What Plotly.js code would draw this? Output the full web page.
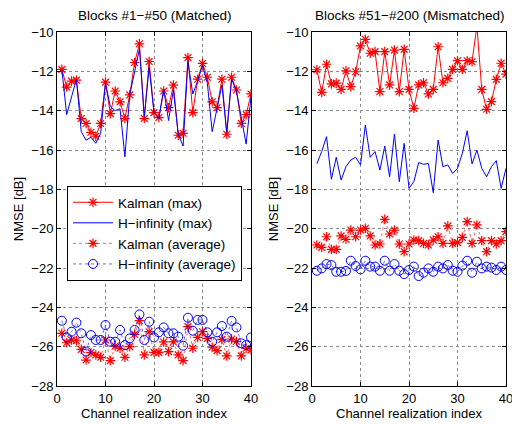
<!DOCTYPE html>
<html><head><meta charset="utf-8">
<script src="https://cdn.plot.ly/plotly-3.0.1.min.js"></script>
<style>html,body{margin:0;padding:0;background:#fff}#plot{width:512px;height:424px}</style>
</head><body><div id="plot"></div>
<script>
const idx = Array.from({length:40},(_,i)=>i+1);

// Left panel: Blocks #1-#50 (Matched)
const kalmanMaxL = [-11.9,-12.8,-12.5,-12.45,-14.4,-14.65,-15.1,-15.3,-14.65,-12.55,-14.15,-13.0,-13.55,-14.4,-13.2,-11.55,-10.6,-14.4,-11.5,-14.1,-14.35,-13.0,-13.85,-12.7,-15.25,-15.15,-11.3,-14.1,-12.4,-11.6,-12.3,-13.55,-13.85,-12.4,-15.2,-12.3,-12.95,-14.65,-14.2,-13.15];
const hinfMaxL = [-11.9,-14.2,-13.3,-12.4,-15.07,-15.5,-15.35,-15.66,-15.15,-12.6,-13.8,-14.0,-13.9,-16.35,-13.2,-12.0,-10.85,-14.3,-11.8,-14.1,-14.4,-12.9,-14.5,-12.95,-15.2,-15.8,-11.5,-13.15,-12.5,-11.7,-12.6,-15.07,-13.9,-12.7,-15.1,-12.4,-13.0,-14.4,-15.7,-13.3];
const kalmanAvgL = [-25.32,-25.8,-25.66,-25.7,-26.14,-26.68,-26.3,-26.42,-26.54,-25.66,-26.71,-25.97,-26.08,-26.54,-26.0,-25.37,-24.68,-26.42,-25.24,-26.29,-26.29,-25.76,-26.25,-25.76,-26.42,-26.71,-24.98,-26.08,-25.53,-25.24,-25.58,-26.03,-26.2,-25.63,-26.47,-25.61,-25.74,-26.47,-26.08,-26.17];
const hinfAvgL = [-24.68,-25.53,-25.24,-24.78,-25.32,-26.25,-25.41,-25.66,-25.66,-24.9,-25.75,-25.75,-25.15,-25.92,-25.58,-25.15,-24.36,-25.66,-24.73,-25.53,-25.27,-25.02,-25.32,-25.32,-25.49,-25.95,-24.53,-25.19,-24.64,-24.64,-25.27,-25.75,-25.27,-24.95,-25.49,-24.69,-25.02,-25.83,-25.92,-25.53];

// Right panel: Blocks #51-#200 (Mismatched)
const kalmanMaxR = [-11.92,-13.07,-11.64,-12.64,-12.6,-12.92,-11.97,-12.78,-12.02,-10.71,-10.37,-11.08,-11.0,-13.03,-11.0,-12.69,-10.92,-13.03,-10.88,-12.92,-13.88,-12.69,-12.58,-13.15,-12.92,-10.75,-12.58,-12.36,-11.9,-11.46,-11.9,-11.46,-11.51,-9.7,-12.92,-13.93,-13.54,-12.41,-11.59,-12.14];
const hinfMaxR = [-16.7,-16.08,-15.32,-17.49,-16.37,-17.53,-16.85,-16.51,-16.37,-16.76,-14.73,-16.37,-16.08,-17.02,-15.8,-17.36,-15.19,-17.61,-15.66,-17.95,-17.61,-16.64,-16.73,-16.68,-18.17,-15.49,-16.85,-16.76,-17.19,-16.93,-16.17,-15.02,-16.71,-16.0,-16.93,-17.36,-16.85,-16.54,-17.95,-16.93];
const kalmanAvgR = [-20.83,-20.95,-20.41,-21.05,-21.05,-20.37,-20.54,-20.07,-20.41,-20.07,-19.98,-20.37,-20.83,-20.78,-19.53,-20.27,-20.07,-20.78,-21.17,-20.78,-20.58,-20.61,-20.75,-20.83,-20.58,-20.41,-20.75,-19.86,-20.75,-20.71,-20.44,-19.64,-20.75,-19.81,-20.61,-21.17,-20.61,-20.78,-20.61,-20.15];
const hinfAvgR = [-22.14,-22.02,-21.8,-21.85,-22.19,-22.19,-22.15,-21.63,-21.9,-22.07,-21.63,-21.93,-21.93,-22.14,-21.63,-22.14,-21.8,-22.14,-22.31,-22.1,-21.93,-22.41,-22.24,-22.02,-22.19,-21.93,-22.02,-21.85,-22.14,-22.19,-21.88,-21.63,-22.24,-21.68,-22.02,-21.93,-21.98,-22.1,-21.93,-22.1];

const names = ['Kalman (max)','H\u2212infinity (max)','Kalman (average)','H\u2212infinity (average)'];
const RED='#ff0000', BLUE='#0000ff';

function traces(kmax,hmax,kavg,havg,xa,ya,show){
  return [
    {x:idx,y:kmax,xaxis:xa,yaxis:ya,name:names[0],showlegend:show,mode:'lines+markers',
     line:{color:RED,width:1},marker:{symbol:'asterisk-open',size:8,color:RED,line:{color:RED,width:1.2}}},
    {x:idx,y:hmax,xaxis:xa,yaxis:ya,name:names[1],showlegend:show,mode:'lines',
     line:{color:BLUE,width:1}},
    {x:idx,y:kavg,xaxis:xa,yaxis:ya,name:names[2],showlegend:show,mode:'lines+markers',
     line:{color:RED,width:0.6,dash:'dot'},marker:{symbol:'asterisk-open',size:8,color:RED,line:{color:RED,width:1.2}}},
    {x:idx,y:havg,xaxis:xa,yaxis:ya,name:names[3],showlegend:show,mode:'lines+markers',
     line:{color:BLUE,width:0.6,dash:'dot'},marker:{symbol:'circle-open',size:9,color:BLUE,line:{color:BLUE,width:1}}}
  ];
}

const data = [
  ...traces(kalmanMaxL,hinfMaxL,kalmanAvgL,hinfAvgL,'x','y',true),
  ...traces(kalmanMaxR,hinfMaxR,kalmanAvgR,hinfAvgR,'x2','y2',false)
];

const FONT = {family:'Liberation Sans, Arial, sans-serif', size:13, color:'#000'};
const TFONT = {family:'Liberation Sans, Arial, sans-serif', size:13.5, color:'#000'};
function xax(domain,anchor){
  return {domain:domain,anchor:anchor,range:[0,40],tickvals:[0,10,20,30,40],
    showline:true,mirror:'ticks',linecolor:'#000',linewidth:1,ticks:'inside',ticklen:4,tickcolor:'#000',
    showgrid:true,gridcolor:'#8a8a8a',griddash:'dot',gridwidth:1,zeroline:false,
    ticklabeloverflow:'allow',
    tickfont:FONT,title:{text:'Channel realization index',font:FONT,standoff:2}};
}
function yax(domain,anchor){
  return {domain:domain,anchor:anchor,range:[-28,-10],dtick:2,
    showline:true,mirror:'ticks',linecolor:'#000',linewidth:1,ticks:'inside',ticklen:4,tickcolor:'#000',
    showgrid:true,gridcolor:'#8a8a8a',griddash:'dot',gridwidth:1,zeroline:false,
    ticklabeloverflow:'allow',
    tickfont:FONT,title:{text:'NMSE [dB]',font:FONT,standoff:4}};
}

const layout = {
  width:512,height:424,margin:{l:0,r:0,t:0,b:0},
  paper_bgcolor:'#fff',plot_bgcolor:'#fff',font:FONT,
  xaxis:xax([57/512,251/512],'y'),
  yaxis:yax([1-386/424,1-32/424],'x'),
  xaxis2:xax([312/512,506/512],'y2'),
  yaxis2:yax([1-386/424,1-32/424],'x2'),
  showlegend:true,
  legend:{x:67/512,y:1-186/424,xanchor:'left',yanchor:'top',bgcolor:'#fff',
    bordercolor:'#000',borderwidth:1,font:TFONT,tracegroupgap:0,itemwidth:40},
  annotations:[
    {text:'Blocks #1\u2212#50 (Matched)',xref:'paper',yref:'paper',x:154/512,y:1-16/424,
     xanchor:'center',yanchor:'middle',showarrow:false,font:TFONT},
    {text:'Blocks #51\u2212#200 (Mismatched)',xref:'paper',yref:'paper',x:409/512,y:1-16/424,
     xanchor:'center',yanchor:'middle',showarrow:false,font:TFONT}
  ]
};

Plotly.newPlot('plot',data,layout,{displayModeBar:false,staticPlot:true});
</script></body></html>
